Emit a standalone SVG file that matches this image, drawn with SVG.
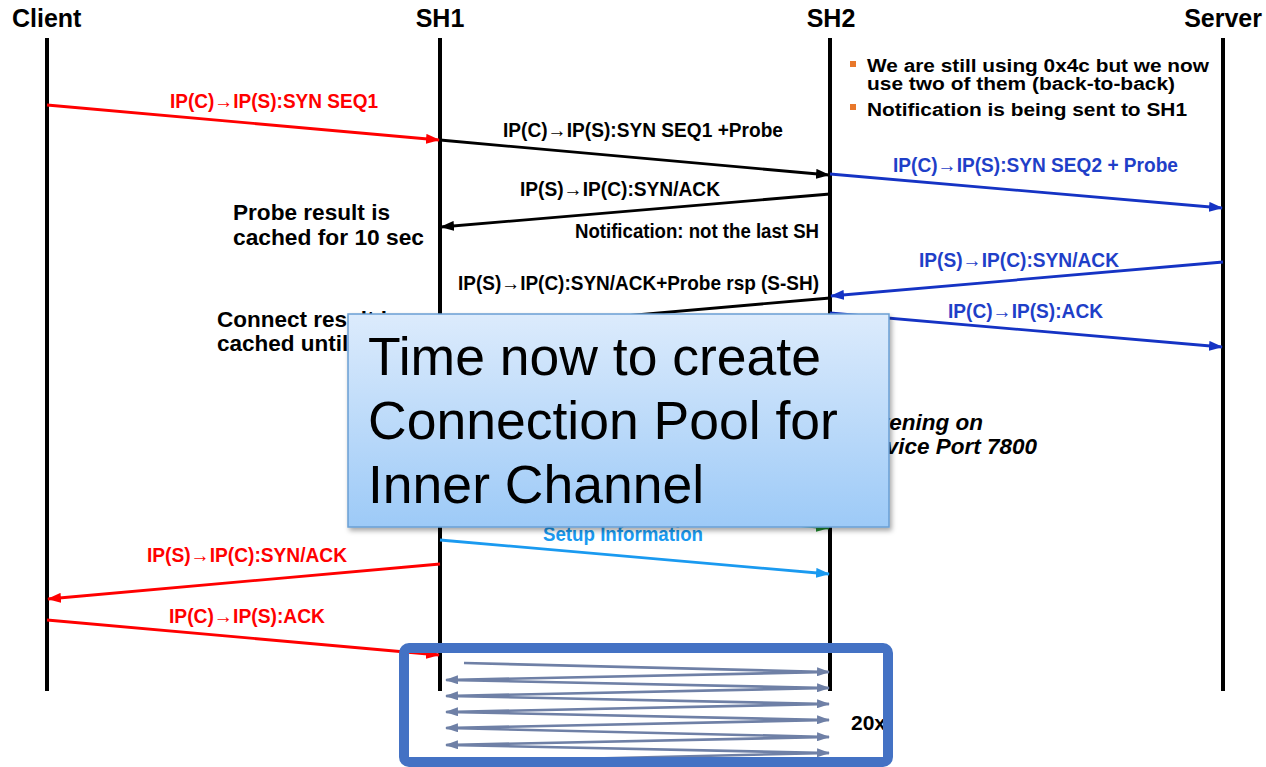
<svg xmlns="http://www.w3.org/2000/svg" width="1266" height="767" viewBox="0 0 1266 767">
  <style>
    .hdr { font-family: "Liberation Sans", Arial, sans-serif; font-weight: bold; font-size: 25px; fill: #000; }
    .life { stroke: #000; stroke-width: 4; }
    .msg { font-family: "Liberation Sans", Arial, sans-serif; font-weight: bold; font-size: 20.5px; }
    .note { font-family: "Liberation Sans", Arial, sans-serif; font-weight: bold; font-size: 22.5px; fill: #000; }
    .bul { font-family: "Liberation Sans", Arial, sans-serif; font-weight: bold; font-size: 18px; fill: #000; }
    .ital { font-family: "Liberation Sans", Arial, sans-serif; font-weight: bold; font-style: italic; font-size: 22.5px; fill: #000; }
    .call { font-family: "Liberation Sans", Arial, sans-serif; font-size: 53.5px; fill: #000; }
    .red { stroke: #ff0000; stroke-width: 2.8; fill: none; }
    .blk { stroke: #000; stroke-width: 2.8; fill: none; }
    .blu { stroke: #1533c4; stroke-width: 2.8; fill: none; }
    .sky { stroke: #1a9af0; stroke-width: 2.8; fill: none; }
    .grn { stroke: #1e8a2e; stroke-width: 2.8; fill: none; }
    .zig { stroke: #6f80a6; stroke-width: 2.6; fill: none; marker-end: url(#aGray); }
    .tRed { fill: #ff0000; }
    .tBlk { fill: #000; }
    .tBlu { fill: #1f3fc8; }
    .tSky { fill: #1a9af0; }
  </style>
  <defs>
    <marker id="aRed" markerUnits="userSpaceOnUse" markerWidth="14" markerHeight="10" viewBox="0 0 14 10" refX="13" refY="5" orient="auto"><path d="M0,0 L14,5 L0,10 z" fill="#ff0000"/></marker>
    <marker id="aBlk" markerUnits="userSpaceOnUse" markerWidth="14" markerHeight="10" viewBox="0 0 14 10" refX="13" refY="5" orient="auto"><path d="M0,0 L14,5 L0,10 z" fill="#000"/></marker>
    <marker id="aBlu" markerUnits="userSpaceOnUse" markerWidth="14" markerHeight="10" viewBox="0 0 14 10" refX="13" refY="5" orient="auto"><path d="M0,0 L14,5 L0,10 z" fill="#1533c4"/></marker>
    <marker id="aSky" markerUnits="userSpaceOnUse" markerWidth="14" markerHeight="10" viewBox="0 0 14 10" refX="13" refY="5" orient="auto"><path d="M0,0 L14,5 L0,10 z" fill="#1a9af0"/></marker>
    <marker id="aGrn" markerUnits="userSpaceOnUse" markerWidth="14" markerHeight="10" viewBox="0 0 14 10" refX="13" refY="5" orient="auto"><path d="M0,0 L14,5 L0,10 z" fill="#1e8a2e"/></marker>
    <marker id="aGray" markerUnits="userSpaceOnUse" markerWidth="13" markerHeight="9" viewBox="0 0 13 9" refX="12" refY="4.5" orient="auto"><path d="M0,0 L13,4.5 L0,9 z" fill="#6f80a6"/></marker>
    <linearGradient id="callFill" x1="0" y1="0" x2="0" y2="1">
      <stop offset="0" stop-color="#dcebfc"/>
      <stop offset="1" stop-color="#9dcaf7"/>
    </linearGradient>
    <filter id="shadow" x="-5%" y="-5%" width="112%" height="115%">
      <feDropShadow dx="2" dy="3" stdDeviation="2.5" flood-color="#000" flood-opacity="0.35"/>
    </filter>
  </defs>

  <rect width="1266" height="767" fill="#fff"/>

  <!-- lifelines -->
  <g id="client">
    <text class="hdr" x="12" y="27">Client</text>
    <line class="life" x1="47" y1="38" x2="47" y2="691"/>
  </g>
  <g id="sh1">
    <text class="hdr" x="440" y="27" text-anchor="middle">SH1</text>
    <line class="life" x1="440" y1="38" x2="440" y2="691"/>
  </g>
  <g id="sh2">
    <text class="hdr" x="831" y="27" text-anchor="middle">SH2</text>
    <line class="life" x1="830" y1="38" x2="830" y2="691"/>
  </g>
  <g id="server">
    <text class="hdr" x="1262" y="27" text-anchor="end">Server</text>
    <line class="life" x1="1223" y1="38" x2="1223" y2="691"/>
  </g>

  <!-- notes -->
  <g id="notes">
    <rect x="850" y="61" width="6" height="6" fill="#e8772a"/>
    <text class="bul" x="867" y="72" textLength="342" lengthAdjust="spacingAndGlyphs">We are still using 0x4c but we now</text>
    <text class="bul" x="867" y="90" textLength="308" lengthAdjust="spacingAndGlyphs">use two of them (back-to-back)</text>
    <rect x="850" y="104" width="6" height="6" fill="#e8772a"/>
    <text class="bul" x="867" y="116" textLength="320" lengthAdjust="spacingAndGlyphs">Notification is being sent to SH1</text>
    <text class="note" x="233" y="220" textLength="157" lengthAdjust="spacingAndGlyphs">Probe result is</text>
    <text class="note" x="233" y="245" textLength="191" lengthAdjust="spacingAndGlyphs">cached for 10 sec</text>
    <text class="note" x="217" y="327">Connect result is</text>
    <text class="note" x="217" y="351">cached until</text>
    <text class="ital" x="983" y="430" text-anchor="end">Listening on</text>
    <text class="ital" x="1037" y="454" text-anchor="end">Service Port 7800</text>
  </g>

  <!-- message connectors -->
  <g id="connectors">
    <line class="red" x1="47" y1="105" x2="439" y2="140" marker-end="url(#aRed)"/>
    <text class="msg tRed" x="170" y="108" textLength="208" lengthAdjust="spacingAndGlyphs">IP(C)→IP(S):SYN SEQ1</text>

    <line class="blk" x1="440" y1="140" x2="829" y2="175" marker-end="url(#aBlk)"/>
    <text class="msg tBlk" x="503" y="137" textLength="280" lengthAdjust="spacingAndGlyphs">IP(C)→IP(S):SYN SEQ1 +Probe</text>

    <line class="blu" x1="830" y1="174" x2="1222" y2="208" marker-end="url(#aBlu)"/>
    <text class="msg tBlu" x="893" y="172" textLength="285" lengthAdjust="spacingAndGlyphs">IP(C)→IP(S):SYN SEQ2 + Probe</text>

    <line class="blk" x1="830" y1="194" x2="441" y2="227" marker-end="url(#aBlk)"/>
    <text class="msg tBlk" x="520" y="196" textLength="200" lengthAdjust="spacingAndGlyphs">IP(S)→IP(C):SYN/ACK</text>
    <text class="msg tBlk" x="575" y="238" textLength="244" lengthAdjust="spacingAndGlyphs">Notification: not the last SH</text>

    <line class="blu" x1="1223" y1="262" x2="831" y2="296" marker-end="url(#aBlu)"/>
    <text class="msg tBlu" x="919" y="267" textLength="200" lengthAdjust="spacingAndGlyphs">IP(S)→IP(C):SYN/ACK</text>

    <line class="blk" x1="830" y1="298" x2="441" y2="332" marker-end="url(#aBlk)"/>
    <text class="msg tBlk" x="458" y="290" textLength="361" lengthAdjust="spacingAndGlyphs">IP(S)→IP(C):SYN/ACK+Probe rsp (S-SH)</text>

    <line class="blu" x1="830" y1="313" x2="1222" y2="347" marker-end="url(#aBlu)"/>
    <text class="msg tBlu" x="948" y="318" textLength="155" lengthAdjust="spacingAndGlyphs">IP(C)→IP(S):ACK</text>

    <line class="grn" x1="440" y1="494" x2="829" y2="528" marker-end="url(#aGrn)"/>

    <line class="sky" x1="440" y1="540" x2="829" y2="574" marker-end="url(#aSky)"/>
    <text class="msg tSky" x="543" y="541" textLength="160" lengthAdjust="spacingAndGlyphs">Setup Information</text>

    <line class="red" x1="440" y1="564" x2="48" y2="599" marker-end="url(#aRed)"/>
    <text class="msg tRed" x="147" y="562" textLength="200" lengthAdjust="spacingAndGlyphs">IP(S)→IP(C):SYN/ACK</text>

    <line class="red" x1="47" y1="620" x2="439" y2="655" marker-end="url(#aRed)"/>
    <text class="msg tRed" x="169" y="623" textLength="156" lengthAdjust="spacingAndGlyphs">IP(C)→IP(S):ACK</text>
  </g>

  <!-- callout -->
  <g id="callout">
    <rect x="348" y="314" width="541" height="213" fill="url(#callFill)" stroke="#6a9fd4" stroke-width="1.5" filter="url(#shadow)"/>
    <text class="call" x="368" y="375">Time now to create</text>
    <text class="call" x="368" y="439">Connection Pool for</text>
    <text class="call" x="368" y="503">Inner Channel</text>
  </g>

  <!-- connection pool exchange -->
  <g id="pool">
    <line class="zig" x1="464" y1="663" x2="829" y2="672"/>
    <line class="zig" x1="829" y1="672" x2="446" y2="680"/>
    <line class="zig" x1="447" y1="680" x2="829" y2="688"/>
    <line class="zig" x1="829" y1="688" x2="446" y2="696"/>
    <line class="zig" x1="447" y1="696" x2="829" y2="704"/>
    <line class="zig" x1="829" y1="704" x2="446" y2="712"/>
    <line class="zig" x1="447" y1="712" x2="829" y2="720"/>
    <line class="zig" x1="829" y1="720" x2="446" y2="728"/>
    <line class="zig" x1="447" y1="728" x2="829" y2="737"/>
    <line class="zig" x1="829" y1="737" x2="446" y2="745"/>
    <line class="zig" x1="447" y1="745" x2="829" y2="753"/>
    <line class="zig" x1="829" y1="753" x2="446" y2="762"/>
    <text class="hdr" x="851" y="730" style="font-size:21px">20x</text>
    <rect x="404" y="648" width="484" height="114" rx="5" fill="none" stroke="#4472c4" stroke-width="10"/>
  </g>
</svg>
